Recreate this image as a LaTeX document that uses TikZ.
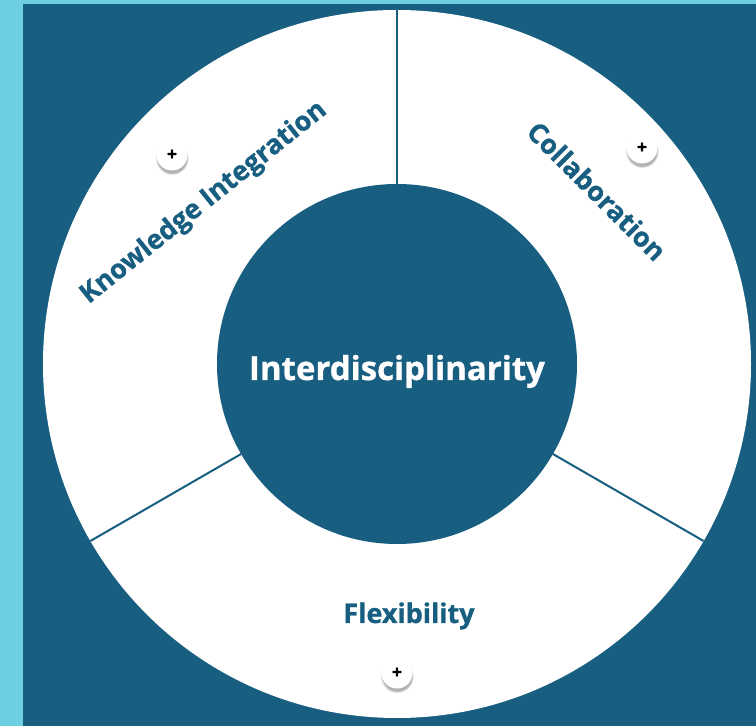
\documentclass[tikz,border=0pt]{standalone}
\usepackage{fontspec}
\setmainfont{Open Sans}[BoldFeatures={FakeBold=0.9}]
\usetikzlibrary{shadows}

\definecolor{navy}{RGB}{23,94,128}
\definecolor{sky}{RGB}{110,206,226}

\tikzset{
  ringpart/.style={circle, fill=white, inner sep=0pt, outer sep=0pt, minimum size=708pt},
  hubdisc/.style={circle, fill=navy, inner sep=0pt, outer sep=0pt, minimum size=360pt},
  divider/.style={draw=navy, line width=2pt},
  hubtext/.style={text=white, font=\bfseries\fontsize{33}{36}\selectfont},
  seglabel/.style={text=navy, font=\bfseries\fontsize{27}{30}\selectfont, inner sep=0pt},
  plusbtn/.style={circle, fill=white, inner sep=0pt, minimum size=31pt,
    circular drop shadow={shadow xshift=0pt, shadow yshift=-3pt, shadow scale=1.08, opacity=0.6},
    font=\bfseries\fontsize{18}{18}\selectfont, text=black}
}

\begin{document}
\begin{tikzpicture}[x=1pt, y=1pt]
  \useasboundingbox (0,0) rectangle (756,726);
  % background panels
  \fill[sky] (0,0) rectangle (756,726);
  \fill[navy] (23,0) rectangle (756,722);

  % white ring and central hub
  \node[ringpart] (ring) at (397,362) {};
  \node[hubdisc] (hub) at (397,362) {};

  % segment dividers
  \draw[divider] (hub.90) -- (ring.90);
  \draw[divider] (hub.210) -- (ring.210);
  \draw[divider] (hub.330) -- (ring.330);

  % labels
  \node[hubtext, anchor=base] (core) at (397,346) {Interdisciplinarity};
  \node[seglabel, rotate=38.7] (knowledge) at (204,523) {Knowledge Integration};
  \node[seglabel, rotate=-45] (collab) at (597,535) {Collaboration};
  \node[seglabel, anchor=base] (flex) at (409,103) {Flexibility};

  % expand buttons
  \node[plusbtn] (plusK) at (172,571) {+};
  \node[plusbtn] (plusC) at (642,578) {+};
  \node[plusbtn] (plusF) at (397,53) {+};
\end{tikzpicture}
\end{document}
